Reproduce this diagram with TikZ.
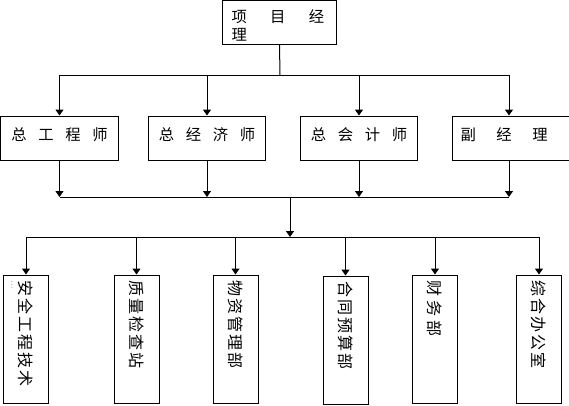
\documentclass[tikz,border=0pt]{standalone}
\usepackage{fontspec}
\newfontfamily\cjk{Noto Sans CJK SC}
\usetikzlibrary{arrows.meta}
\newcommand\hg[1][8.75pt]{\hspace{#1}}
\newcommand\vg[1][1.5pt]{\hspace{#1}}
\begin{document}
\begin{tikzpicture}[x=0.75pt,y=-0.75pt,
  font=\cjk\fontsize{11.5}{14}\selectfont,
  line width=0.75pt,
  arr/.style={-{Triangle[width=6pt,length=4.5pt]}},
  box/.style={draw, rectangle, minimum width=88pt, minimum height=33pt,
    inner sep=0pt, text height=9pt, text depth=5.4pt},
  dept/.style={draw, rectangle, rotate=-90, minimum width=96pt, minimum height=33.75pt,
    inner xsep=4pt, text width=88pt, align=left, font=\cjk\fontsize{12}{14}\selectfont}]
\useasboundingbox (0,0) rectangle (569,405);
\clip (0,0) rectangle (569,405);
% top
\node[draw, rectangle, minimum height=33pt, inner xsep=7pt, inner ysep=0pt,
  text width=72pt, align=left, font=\cjk\fontsize{11.5}{14}\selectfont] (pm) at (279.5,22)
  {\rule{0pt}{15pt}项\hg[17.5pt]目\hg[17.5pt]经\\理};
% middle row
\node[box] (m1) at (59.5,138) {总\hg 工\hg 程\hg 师};
\node[box] (m2) at (207,138) {总\hg 经\hg 济\hg 师};
\node[box] (m3) at (359,138) {总\hg 会\hg 计\hg 师};
\node[box, minimum width=93pt, anchor=west, text width=85pt, inner xsep=6pt, align=left] (m4) at (452,138)
  {副\hg[15.5pt]经\hg[15.5pt]理};
\coordinate (m4c) at (509,138);
% departments
\node[dept] (d1) at (26,339) {安\vg 全\vg 工\vg 程\vg 技\vg 术};
\node[rotate=-90, inner sep=0pt, font=\tiny] (dots) at (12,285) {...};
\node[dept] (d2) at (136.5,339) {质\vg 量\vg 检\vg 查\vg 站};
\node[dept] (d3) at (235.5,339) {物\vg 资\vg 管\vg 理\vg 部};
\node[dept] (d4) at (345.5,340) {合\vg 同\vg 预\vg 算\vg 部};
\node[dept] (d5) at (435,339) {财\vg[3pt]务\vg[3pt]部};
\node[dept] (d6) at (539,339) {综\vg 合\vg 办\vg 公\vg 室};
% connectors
\coordinate (j1) at (280,75);
\coordinate (j2) at (290,197);
\coordinate (j3) at (290,237);
\draw (pm.south) -- (j1);
\draw (m1.north |- j1) -- (m4c |- j1);
\foreach \m in {m1,m2,m3}
  \draw[arr] (\m.north |- j1) -- (\m.north);
\draw[arr] (m4c |- j1) -- (m4c |- m4.north);
\foreach \m in {m1,m2,m3}
  \draw[arr] (\m.south) -- (\m.south |- j2);
\draw[arr] (m4c |- m4.south) -- (m4c |- j2);
\draw (m1.south |- j2) -- (m4c |- j2);
\draw[arr] (j2) -- (j3);
\draw (d1.west |- j3) -- (d6.west |- j3);
\foreach \d in {d1,d2,d3,d4,d5,d6}
  \draw[arr] (\d.west |- j3) -- (\d.west);
\end{tikzpicture}
\end{document}
